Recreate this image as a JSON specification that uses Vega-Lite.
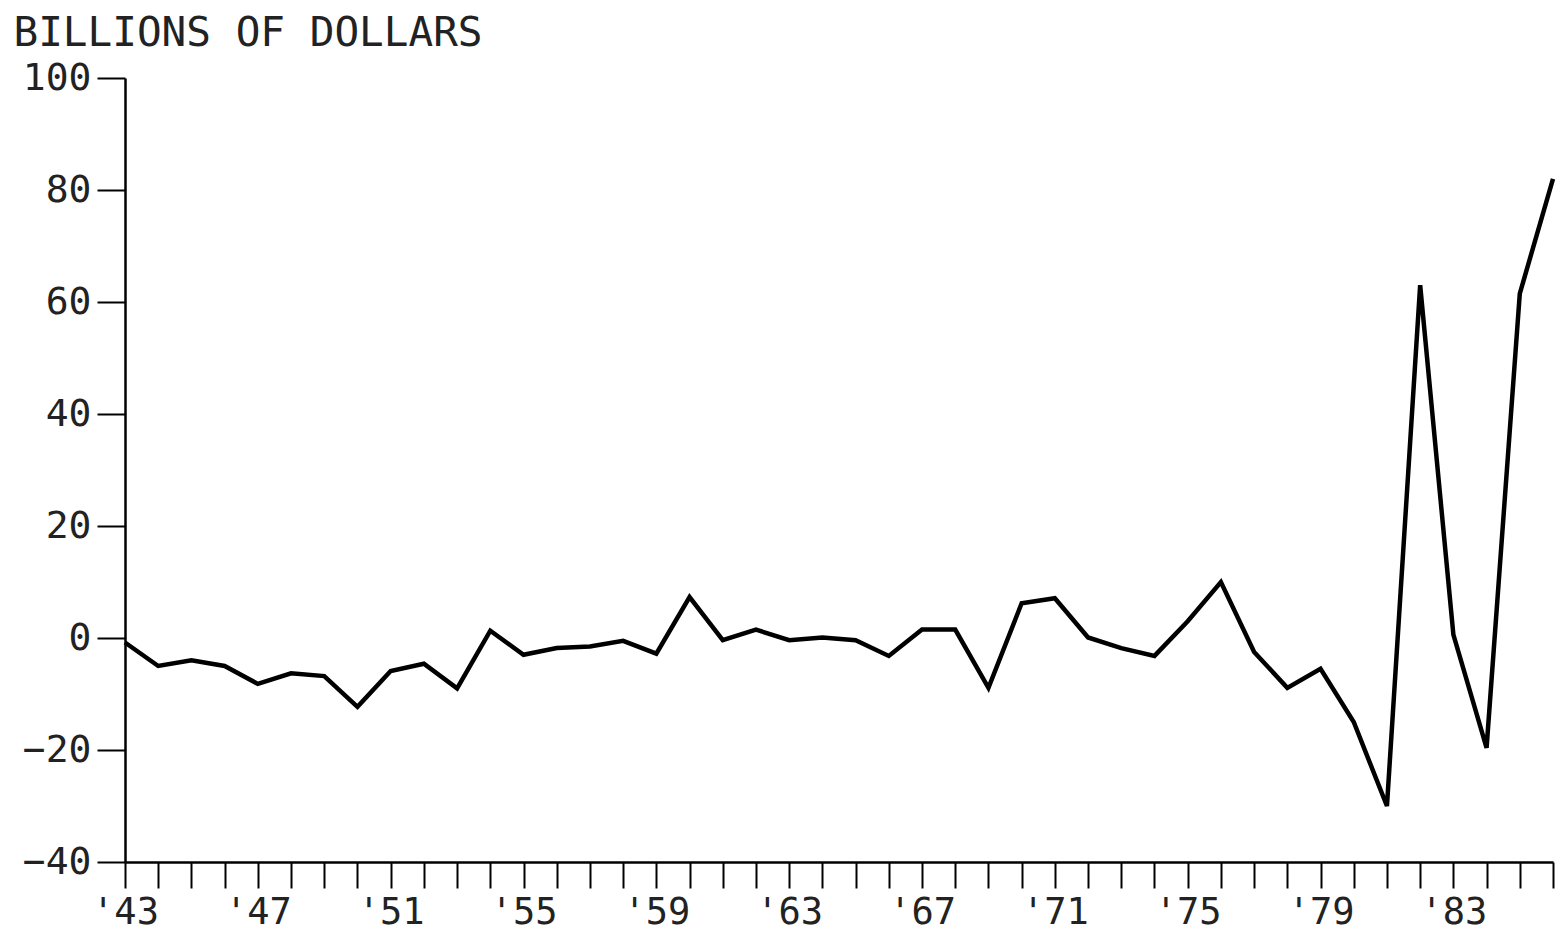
{
  "$schema": "https://vega.github.io/schema/vega-lite/v6.json",
  "autosize": "none",
  "width": 1428,
  "height": 784,
  "padding": {"left": 125, "top": 78, "right": 4, "bottom": 71},
  "background": "white",
  "data": {
    "values": [
      {"year": 1943, "value": -0.8},
      {"year": 1944, "value": -5},
      {"year": 1945, "value": -4},
      {"year": 1946, "value": -5},
      {"year": 1947, "value": -8.2},
      {"year": 1948, "value": -6.3},
      {"year": 1949, "value": -6.8},
      {"year": 1950, "value": -12.3},
      {"year": 1951, "value": -5.9},
      {"year": 1952, "value": -4.6},
      {"year": 1953, "value": -9},
      {"year": 1954, "value": 1.3},
      {"year": 1955, "value": -3},
      {"year": 1956, "value": -1.8},
      {"year": 1957, "value": -1.5},
      {"year": 1958, "value": -0.5},
      {"year": 1959, "value": -2.8},
      {"year": 1960, "value": 7.3},
      {"year": 1961, "value": -0.4},
      {"year": 1962, "value": 1.5},
      {"year": 1963, "value": -0.4},
      {"year": 1964, "value": 0.1},
      {"year": 1965, "value": -0.4},
      {"year": 1966, "value": -3.2},
      {"year": 1967, "value": 1.5},
      {"year": 1968, "value": 1.5},
      {"year": 1969, "value": -8.9},
      {"year": 1970, "value": 6.2},
      {"year": 1971, "value": 7.1},
      {"year": 1972, "value": 0.1},
      {"year": 1973, "value": -1.8},
      {"year": 1974, "value": -3.2},
      {"year": 1975, "value": 3},
      {"year": 1976, "value": 10},
      {"year": 1977, "value": -2.5},
      {"year": 1978, "value": -8.9},
      {"year": 1979, "value": -5.5},
      {"year": 1980, "value": -15},
      {"year": 1981, "value": -30},
      {"year": 1982, "value": 63},
      {"year": 1983, "value": 0.6},
      {"year": 1984, "value": -19.6},
      {"year": 1985, "value": 61.5},
      {"year": 1986, "value": 82}
    ]
  },
  "mark": {"type": "line", "color": "black", "strokeWidth": 4.5, "strokeJoin": "miter"},
  "encoding": {
    "x": {
      "field": "year",
      "type": "quantitative",
      "scale": {"domain": [1943, 1986], "nice": false, "zero": false},
      "axis": {
        "title": null,
        "grid": false,
        "values": [1943, 1944, 1945, 1946, 1947, 1948, 1949, 1950, 1951, 1952, 1953, 1954, 1955, 1956, 1957, 1958, 1959, 1960, 1961, 1962, 1963, 1964, 1965, 1966, 1967, 1968, 1969, 1970, 1971, 1972, 1973, 1974, 1975, 1976, 1977, 1978, 1979, 1980, 1981, 1982, 1983, 1984, 1985, 1986],
        "labelExpr": "(datum.value - 1943) % 4 == 0 && datum.value < 1986 ? \"'\" + substring(toString(datum.value), 2, 4) : ''",
        "labelFlush": false,
        "labelOverlap": false,
        "tickSize": 26,
        "tickWidth": 2,
        "tickColor": "black",
        "domainColor": "black",
        "domainWidth": 2.5,
        "labelPadding": 6,
        "labelFont": "DejaVu Sans Mono",
        "labelFontSize": 37,
        "labelColor": "#222"
      }
    },
    "y": {
      "field": "value",
      "type": "quantitative",
      "scale": {"domain": [-40, 100], "nice": false, "zero": false},
      "axis": {
        "title": "BILLIONS OF DOLLARS",
        "titleAngle": 0,
        "titleAlign": "left",
        "titleBaseline": "alphabetic",
        "titleX": -112,
        "titleY": -33,
        "titleFont": "DejaVu Sans Mono",
        "titleFontSize": 41,
        "titleFontWeight": "normal",
        "titleColor": "#222",
        "grid": false,
        "values": [-40, -20, 0, 20, 40, 60, 80, 100],
        "format": "d",
        "labelFlush": false,
        "labelOverlap": false,
        "tickSize": 28,
        "tickWidth": 2,
        "tickColor": "black",
        "domainColor": "black",
        "domainWidth": 2.5,
        "labelPadding": 6,
        "labelFont": "DejaVu Sans Mono",
        "labelFontSize": 38,
        "labelColor": "#222"
      }
    }
  },
  "config": {"view": {"stroke": null}}
}
